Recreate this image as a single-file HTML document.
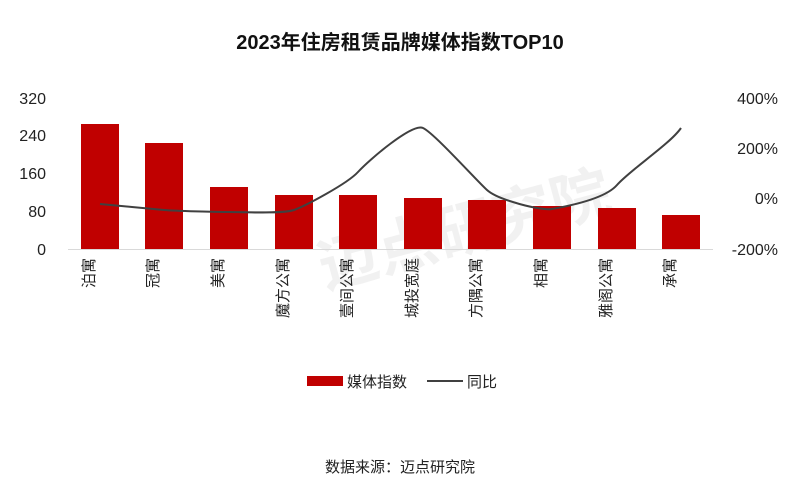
<!DOCTYPE html>
<html><head><meta charset="utf-8"><style>
body{margin:0;background:#fff;}
svg text{font-family:"Liberation Sans","Noto Sans CJK SC",sans-serif;}
</style></head><body>
<svg width="800" height="488" viewBox="0 0 800 488" xmlns="http://www.w3.org/2000/svg">
<rect width="800" height="488" fill="#fff"/>
<text x="400" y="49" text-anchor="middle" font-size="20" font-weight="bold" fill="#111">2023年住房租赁品牌媒体指数TOP10</text>
<g font-size="16" fill="#222" text-anchor="end">
<text x="46" y="104">320</text><text x="46" y="141">240</text><text x="46" y="179">160</text><text x="46" y="217">80</text><text x="46" y="255">0</text>
</g>
<g font-size="16" fill="#222" text-anchor="end">
<text x="778" y="104">400%</text><text x="778" y="154">200%</text><text x="778" y="204">0%</text><text x="778" y="255">-200%</text>
</g>
<text x="470" y="250" font-size="60" fill="#000" opacity="0.05" font-weight="bold" transform="rotate(-15 470 250)" text-anchor="middle">迈点研究院</text>
<g fill="#c00000">
<rect x="81" y="124" width="38" height="125"/>
<rect x="145" y="143" width="38" height="106"/>
<rect x="210" y="187" width="38" height="62"/>
<rect x="275" y="195" width="38" height="54"/>
<rect x="339" y="195" width="38" height="54"/>
<rect x="404" y="198" width="38" height="51"/>
<rect x="468" y="200" width="38" height="49"/>
<rect x="533" y="206" width="38" height="43"/>
<rect x="598" y="208" width="38" height="41"/>
<rect x="662" y="215" width="38" height="34"/>
</g>
<line x1="68" y1="249.5" x2="713" y2="249.5" stroke="#d9d9d9" stroke-width="1"/>
<path d="M100,204 C111,205 153,209 164,210 C175,211 218,212 229,212 C240,212 283,214 294,210 C305,206 347,184 358,172 C369,160 412,123 423,128 C434,133 476,180 487,190 C498,200 541,211 552,209 C563,207 604,200 617,185 C630,170 670,144 681,128" fill="none" stroke="#404040" stroke-width="2"/>
<g font-size="15" fill="#222">
<text transform="translate(94,258) rotate(-90)" text-anchor="end">泊寓</text>
<text transform="translate(158,258) rotate(-90)" text-anchor="end">冠寓</text>
<text transform="translate(223,258) rotate(-90)" text-anchor="end">美寓</text>
<text transform="translate(288,258) rotate(-90)" text-anchor="end">魔方公寓</text>
<text transform="translate(352,258) rotate(-90)" text-anchor="end">壹间公寓</text>
<text transform="translate(417,258) rotate(-90)" text-anchor="end">城投宽庭</text>
<text transform="translate(481,258) rotate(-90)" text-anchor="end">方隅公寓</text>
<text transform="translate(546,258) rotate(-90)" text-anchor="end">相寓</text>
<text transform="translate(611,258) rotate(-90)" text-anchor="end">雅阁公寓</text>
<text transform="translate(675,258) rotate(-90)" text-anchor="end">承寓</text>
</g>
<rect x="307" y="376" width="36" height="10" fill="#c00000"/>
<text x="347" y="387" font-size="15" fill="#222">媒体指数</text>
<line x1="427" y1="381" x2="463" y2="381" stroke="#404040" stroke-width="2"/>
<text x="467" y="387" font-size="15" fill="#222">同比</text>
<text x="400" y="472" font-size="15" fill="#222" text-anchor="middle">数据来源：迈点研究院</text>
</svg>
</body></html>
